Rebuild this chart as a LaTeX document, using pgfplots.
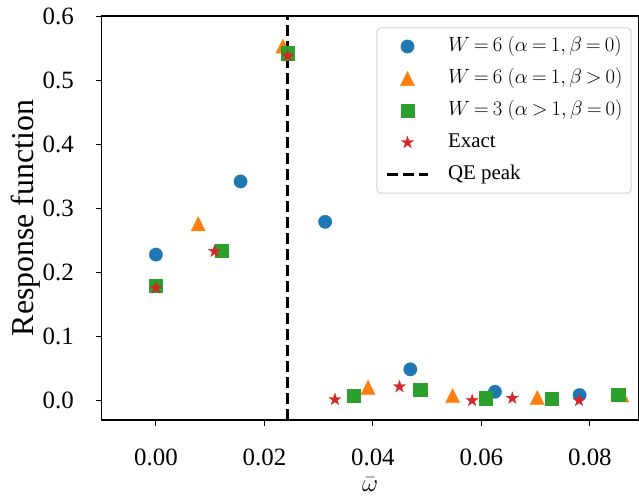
\documentclass[border=0pt]{standalone}
\usepackage{pgfplots}
\pgfplotsset{compat=1.18}
\usepackage{fontspec}
\setmainfont{Liberation Serif}
\definecolor{tabblue}{HTML}{1F77B4}
\definecolor{taborange}{HTML}{FF7F0E}
\definecolor{tabgreen}{HTML}{2CA02C}
\definecolor{tabred}{HTML}{D62728}
\pgfdeclareplotmark{mtri}{%
  \pgfpathmoveto{\pgfqpoint{0bp}{7.1bp}}%
  \pgfpathlineto{\pgfqpoint{-7.1bp}{-7.1bp}}%
  \pgfpathlineto{\pgfqpoint{7.1bp}{-7.1bp}}%
  \pgfpathclose
  \pgfusepathqfillstroke}
\pgfdeclareplotmark{fstar}{%
  \pgfpathmoveto{\pgfqpoint{0bp}{6.4bp}}%
  \pgfpathlineto{\pgfqpoint{-1.437bp}{1.978bp}}%
  \pgfpathlineto{\pgfqpoint{-6.087bp}{1.978bp}}%
  \pgfpathlineto{\pgfqpoint{-2.325bp}{-0.755bp}}%
  \pgfpathlineto{\pgfqpoint{-3.762bp}{-5.178bp}}%
  \pgfpathlineto{\pgfqpoint{0bp}{-2.445bp}}%
  \pgfpathlineto{\pgfqpoint{3.762bp}{-5.178bp}}%
  \pgfpathlineto{\pgfqpoint{2.325bp}{-0.755bp}}%
  \pgfpathlineto{\pgfqpoint{6.087bp}{1.978bp}}%
  \pgfpathlineto{\pgfqpoint{1.437bp}{1.978bp}}%
  \pgfpathclose
  \pgfusepathqfillstroke}
\pgfplotsset{
  markleg/.style={legend image code/.code={\draw[##1] plot coordinates {(20.5bp,0bp)};}},
  lineleg/.style={legend image code/.code={\draw[##1] (0bp,0bp) -- (41bp,0bp);}},
}
\begin{document}
\begin{tikzpicture}
\path[use as bounding box] (-101.7bp,-76bp) rectangle (537.3bp,420bp);
\begin{axis}[
  scale only axis,
  width=537bp, height=404bp,
  xmin=-0.01, xmax=0.089,
  ymin=-0.03, ymax=0.6,
  xtick={0,0.02,0.04,0.06,0.08},
  ytick={0,0.1,0.2,0.3,0.4,0.5,0.6},
  scaled ticks=false,
  xticklabel style={/pgf/number format/fixed, /pgf/number format/fixed zerofill, /pgf/number format/precision=2},
  yticklabel style={/pgf/number format/fixed, /pgf/number format/fixed zerofill, /pgf/number format/precision=1},
  /pgf/number format/assume math mode=true,
  ticklabel style={font=\fontsize{25}{30}\selectfont},
  xticklabel style={anchor=base, yshift=-39bp, inner sep=0pt},
  yticklabel style={anchor=east, xshift=-21.7bp, inner sep=0pt},
  tick align=outside,
  xtick pos=bottom, ytick pos=left,
  major tick length=6bp,
  tick style={line width=1bp, black},
  axis line style={line width=1.1bp},
  xlabel={$\bar{\omega}$},
  xlabel style={font=\fontsize{32}{38}\selectfont, at={(axis description cs:0.5,-0.178)}, anchor=base, inner sep=0pt},
  ylabel={Response function},
  ylabel style={font=\fontsize{32}{38}\selectfont, at={(axis description cs:-0.1274,0.5)}, anchor=base, inner sep=0pt},
  legend cell align=left,
  legend style={
    at={(1,1)}, anchor=north east, xshift=-7bp, yshift=-11.3bp,
    draw=black!17, line width=1bp, rounded corners=4bp,
    font=\fontsize{21}{25}\selectfont,
    inner xsep=8.7bp, inner ysep=8.7bp,
    row sep=12bp,
    nodes={inner sep=0pt, text height=15bp, text depth=5bp},
    /tikz/every odd column/.append style={column sep=18.7bp},
  },
]
\addplot[only marks, mark=*, mark size=6.7bp, color=tabblue, line width=0.3bp, markleg]
  coordinates {(0,0.228) (0.0156,0.342) (0.0312,0.279) (0.0469,0.049) (0.0625,0.014) (0.0781,0.009)};
\addlegendentry{{\thickmuskip=3.5mu $W=6\ (\alpha=1,\beta=0)$}}
\addplot[only marks, mark=mtri, color=taborange, line width=0.3bp, markleg]
  coordinates {(0.0078,0.276) (0.0234,0.553) (0.0391,0.021) (0.0547,0.008) (0.0703,0.005) (0.0859,0.009)};
\addlegendentry{{\thickmuskip=3.5mu $W=6\ (\alpha=1,\beta>0)$}}
\addplot[only marks, mark=square*, mark size=6.6bp, color=tabgreen, line width=0.3bp, markleg]
  coordinates {(0,0.180) (0.01217,0.234) (0.02434,0.542) (0.0365,0.008) (0.0487,0.017) (0.0608,0.004) (0.0730,0.003) (0.0852,0.010)};
\addlegendentry{{\thickmuskip=3.5mu $W=3\ (\alpha>1,\beta=0)$}}
\addplot[only marks, mark=fstar, color=tabred, line width=0.3bp, markleg]
  coordinates {(0,0.176) (0.0108,0.233) (0.0243,0.538) (0.0330,0.002) (0.0449,0.022) (0.0583,0.0005) (0.0657,0.004) (0.0780,0.0005)};
\addlegendentry{Exact}
\addplot[black, line width=2.7bp, dash pattern=on 11bp off 5bp, lineleg]
  coordinates {(0.0243,-0.03) (0.0243,0.6)};
\addlegendentry{QE peak}
\end{axis}
\end{tikzpicture}
\end{document}
